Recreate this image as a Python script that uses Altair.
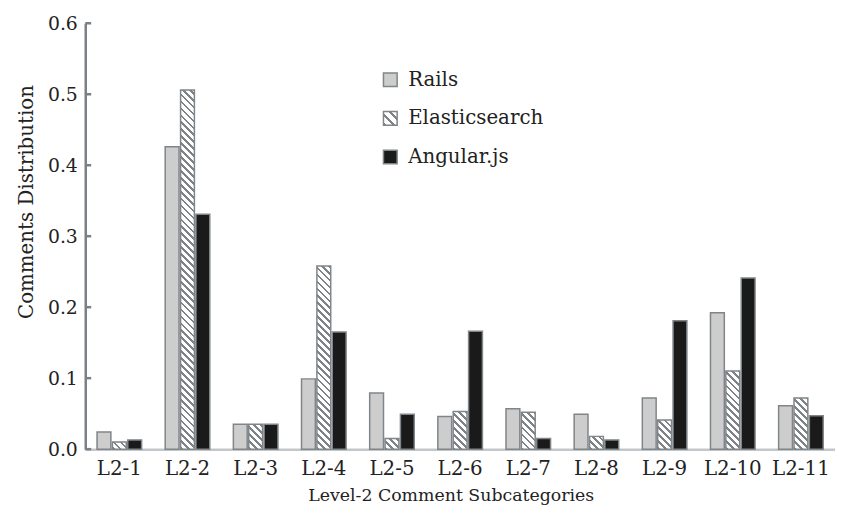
import altair as alt

categories = ["L2-1", "L2-2", "L2-3", "L2-4", "L2-5", "L2-6",
              "L2-7", "L2-8", "L2-9", "L2-10", "L2-11"]
series = ["Rails", "Elasticsearch", "Angular.js"]
rails = [0.024, 0.426, 0.035, 0.099, 0.079, 0.046, 0.057, 0.049, 0.072, 0.192, 0.061]
elastic = [0.010, 0.506, 0.035, 0.258, 0.015, 0.053, 0.052, 0.018, 0.041, 0.110, 0.072]
angular = [0.013, 0.331, 0.035, 0.165, 0.049, 0.166, 0.015, 0.013, 0.181, 0.241, 0.047]
y_ticks = [0.0, 0.1, 0.2, 0.3, 0.4, 0.5, 0.6]

FONT = "DejaVu Serif"
TEXT = "#222222"
EDGE = "#7f8588"
RAILS_FILL = "#cdcdcd"
ANG_FILL = "#1a1a1a"

PLOT_W, PLOT_H = 757, 430
Y_MAX = 0.6
X_PAD_INNER = 0.346
OFF_PAD = 0.1
STEP = PLOT_W / len(categories)
OFF_STEP = STEP * (1 - X_PAD_INNER) / (len(series) - OFF_PAD)
BAR_W = OFF_STEP * (1 - OFF_PAD)
SQ = 13.8


def hatch(w, h, period=7.0, dark=2.8, c_dark="#7d8386", c_light="#ffffff"):
    """Diagonal '\\' stripes as a hard-stop linear gradient for a w x h box."""
    total = w + h
    k = total / (w * w + h * h)
    stops = []
    j = 0
    while j * period < total:
        a = j * period
        for lo, hi, col in ((a, a + dark, c_dark), (a + dark, a + period, c_light)):
            if lo >= total:
                break
            stops.append({"offset": round(min(lo / total, 1.0), 5), "color": col})
            stops.append({"offset": round(min(hi / total, 1.0), 5), "color": col})
        j += 1
    return {"gradient": "linear", "x1": 0, "y1": 1,
            "x2": round(k * w, 6), "y2": round(1 - k * h, 6), "stops": stops}


records = []
for i, c in enumerate(categories):
    for s, vals in zip(series, (rails, elastic, angular)):
        v = vals[i]
        if s == "Rails":
            f = RAILS_FILL
        elif s == "Angular.js":
            f = ANG_FILL
        else:
            f = hatch(BAR_W, v / Y_MAX * PLOT_H)
        records.append({"cat": c, "series": s, "value": v, "fill": f})

bars = alt.Chart(alt.Data(values=records)).mark_bar(
    stroke=EDGE, strokeWidth=1.5
).encode(
    x=alt.X("cat:N", sort=categories,
            scale=alt.Scale(paddingInner=X_PAD_INNER, paddingOuter=X_PAD_INNER / 2),
            axis=alt.Axis(title="Level-2 Comment Subcategories", labelAngle=0,
                          ticks=False, labelPadding=10, labelFont=FONT,
                          labelFontSize=20, labelColor=TEXT, titleFont=FONT,
                          titleFontSize=17.5, titleFontWeight="normal",
                          titleColor=TEXT, titleBaseline="alphabetic",
                          titleX=369, titleY=52,
                          domainColor="#c3c7ca", domainWidth=2.5)),
    xOffset=alt.XOffset("series:N", sort=series,
                        scale=alt.Scale(paddingInner=OFF_PAD, paddingOuter=0)),
    y=alt.Y("value:Q", stack=None,
            scale=alt.Scale(domain=[0, Y_MAX], nice=False),
            axis=alt.Axis(title="Comments Distribution", values=y_ticks,
                          format=".1f", ticks=False, labelPadding=8,
                          labelFont=FONT, labelFontSize=19, labelColor=TEXT,
                          titleFont=FONT, titleFontSize=20,
                          titleFontWeight="normal", titleColor=TEXT,
                          titleBaseline="alphabetic", titleX=-53, titleY=180,
                          grid=False,
                          domainColor="#7a8085", domainWidth=2.5)),
    fill=alt.Fill("fill:N", scale=None),
)

ticks = alt.Chart(alt.Data(values=[{"v": t} for t in y_ticks])).mark_rule(
    color="#7a8085", strokeWidth=2.5
).encode(
    x=alt.value(0), x2=alt.value(6),
    y=alt.Y("v:Q", scale=alt.Scale(domain=[0, Y_MAX], nice=False), axis=None),
)

leg_records = []
for i, s in enumerate(series):
    f = RAILS_FILL if s == "Rails" else (ANG_FILL if s == "Angular.js" else hatch(SQ, SQ, period=9.0, dark=3.0))
    leg_records.append({"series": s, "idx": i, "fill": f})

leg_y = alt.Y("idx:Q", scale=alt.Scale(domain=[0, 2], range=[57, 135]), axis=None)
leg_sq = alt.Chart(alt.Data(values=leg_records)).mark_square(
    size=SQ * SQ, stroke=EDGE, strokeWidth=1.5, opacity=1
).encode(x=alt.value(308), y=leg_y, fill=alt.Fill("fill:N", scale=None))
leg_tx = alt.Chart(alt.Data(values=leg_records)).mark_text(
    align="left", baseline="middle", font=FONT, fontSize=20, color=TEXT
).encode(x=alt.value(326), y=leg_y, text="series:N")

chart = alt.layer(bars, ticks, leg_sq, leg_tx).resolve_scale(
    y="independent"
).properties(
    width=PLOT_W, height=PLOT_H,
    autosize=alt.AutoSizeParams(type="none"),
    padding={"left": 78, "top": 13, "right": 0, "bottom": 56},
).configure_view(stroke=None)

chart.save("out.html", embed_options={"renderer": "svg", "actions": False})
